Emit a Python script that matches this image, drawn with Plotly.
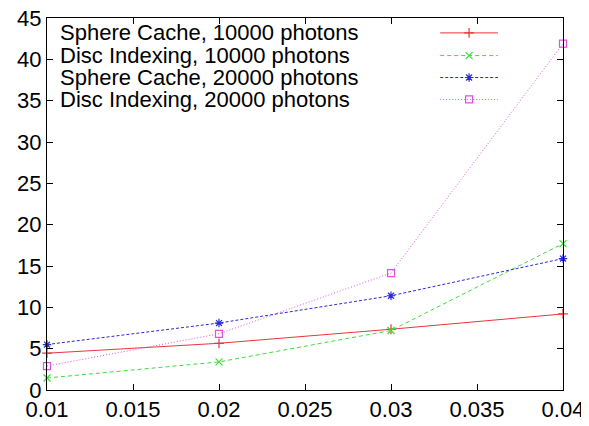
import plotly.graph_objects as go

x_vals = [0.01, 0.02, 0.03, 0.04]
sphere_10000 = [4.45, 5.65, 7.35, 9.2]
disc_10000 = [1.45, 3.4, 7.2, 17.7]
sphere_20000 = [5.5, 8.1, 11.4, 15.9]
disc_20000 = [2.9, 6.8, 14.15, 41.9]

names = ["Sphere Cache, 10000 photons", "Disc Indexing, 10000 photons",
         "Sphere Cache, 20000 photons", "Disc Indexing, 20000 photons"]
series = [sphere_10000, disc_10000, sphere_20000, disc_20000]
colors = ["#e8363a", "#3ddc3d", "#2a2ad8", "#e050e0"]
dashes = ["solid", "4px,3px", "3px,2px", "1px,2px"]
symbols = ["cross-thin", "x-thin", "asterisk", "square-open"]
sizes = [7, 7, 7, 7]

FONT = "Liberation Sans, Arial, sans-serif"

fig = go.Figure()
for n, s, c, d, sym, sz in zip(names, series, colors, dashes, symbols, sizes):
    fig.add_trace(go.Scatter(
        x=x_vals, y=s, mode="lines+markers", name=n, showlegend=False,
        line=dict(color=c, width=1, dash=d),
        marker=dict(symbol=sym, size=sz, color=c, line=dict(color=c, width=1.2)),
    ))

# gnuplot-style legend: text on the left, sample on the right (overlay axis 0..1)
legend_y = [0.960, 0.899, 0.840, 0.781]
for n, c, d, sym, sz, ly in zip(names, colors, dashes, symbols, sizes, legend_y):
    fig.add_trace(go.Scatter(
        x=[0.762, 0.874], y=[ly, ly], xaxis="x2", yaxis="y2",
        mode="lines", showlegend=False, hoverinfo="skip",
        line=dict(color=c, width=1, dash=d),
    ))
    fig.add_trace(go.Scatter(
        x=[0.818], y=[ly], xaxis="x2", yaxis="y2", mode="markers",
        showlegend=False, hoverinfo="skip",
        marker=dict(symbol=sym, size=sz, color=c, line=dict(color=c, width=1.2)),
    ))
    fig.add_annotation(x=0.022, y=ly, xref="x2", yref="y2", text=n,
                       showarrow=False, xanchor="left", yanchor="middle",
                       font=dict(family=FONT, size=22, color="black"))

axis_common = dict(showgrid=False, zeroline=False, showline=True, linecolor="black",
                   linewidth=1, mirror="ticks", ticks="inside", ticklen=6,
                   tickcolor="black", automargin=False, ticklabeloverflow="allow",
                   tickfont=dict(family=FONT, size=22, color="black"))

fig.update_layout(
    width=581, height=418,
    margin=dict(l=39, r=26, t=10, b=36),
    paper_bgcolor="white", plot_bgcolor="white",
    xaxis=dict(range=[0.01, 0.04], tickvals=[0.01, 0.015, 0.02, 0.025, 0.03, 0.035, 0.04],
               ticktext=["0.01", "0.015", "0.02", "0.025", "0.03", "0.035", "0.04"],
               **axis_common),
    yaxis=dict(range=[0, 45], tickvals=list(range(0, 50, 5)), **axis_common),
    xaxis2=dict(range=[0, 1], overlaying="x", visible=False),
    yaxis2=dict(range=[0, 1], overlaying="y", visible=False),
)
fig.update_traces(cliponaxis=False)

fig.write_html("out.html")
